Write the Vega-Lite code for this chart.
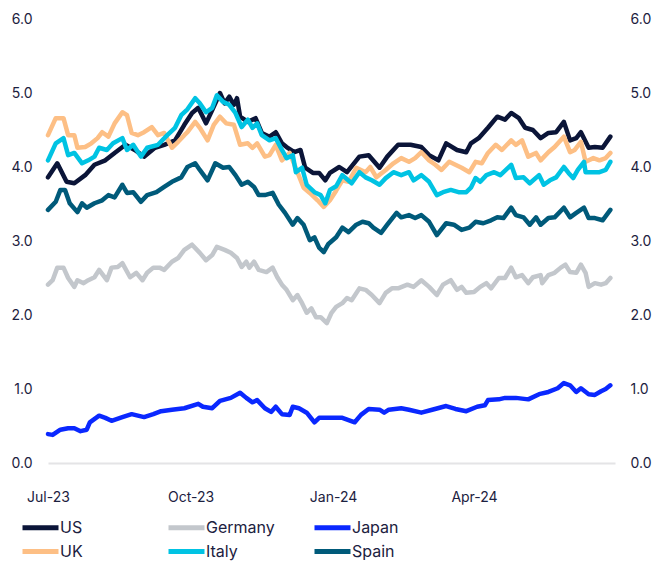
{
  "$schema": "https://vega.github.io/schema/vega-lite/v6.json",
  "autosize": {"type": "none"},
  "width": 567,
  "height": 444,
  "padding": {"left": 48, "top": 19, "right": 42, "bottom": 100},
  "background": "white",
  "config": {
    "font": "Inter",
    "view": {"stroke": null},
    "axis": {"labelFont": "Inter", "labelFontSize": 14, "labelColor": "#1c2140", "title": null, "grid": false, "ticks": false},
    "legend": {"labelFont": "Inter", "labelFontSize": 16, "labelColor": "#1c2140"}
  },
  "data": {"values": [
    {"country":"US","date":"2023-07-01","yield":3.86},{"country":"US","date":"2023-07-07","yield":4.05},{"country":"US","date":"2023-07-13","yield":3.80},{"country":"US","date":"2023-07-18","yield":3.78},{"country":"US","date":"2023-07-25","yield":3.89},{"country":"US","date":"2023-07-31","yield":4.03},{"country":"US","date":"2023-08-07","yield":4.09},{"country":"US","date":"2023-08-13","yield":4.19},{"country":"US","date":"2023-08-20","yield":4.30},{"country":"US","date":"2023-08-26","yield":4.23},{"country":"US","date":"2023-09-01","yield":4.14},{"country":"US","date":"2023-09-08","yield":4.26},{"country":"US","date":"2023-09-14","yield":4.30},{"country":"US","date":"2023-09-21","yield":4.36},{"country":"US","date":"2023-09-27","yield":4.57},{"country":"US","date":"2023-10-02","yield":4.73},{"country":"US","date":"2023-10-06","yield":4.80},{"country":"US","date":"2023-10-11","yield":4.59},{"country":"US","date":"2023-10-15","yield":4.77},{"country":"US","date":"2023-10-20","yield":5.00},{"country":"US","date":"2023-10-23","yield":4.86},{"country":"US","date":"2023-10-26","yield":4.95},{"country":"US","date":"2023-10-29","yield":4.84},{"country":"US","date":"2023-10-31","yield":4.93},{"country":"US","date":"2023-11-02","yield":4.68},{"country":"US","date":"2023-11-07","yield":4.61},{"country":"US","date":"2023-11-12","yield":4.66},{"country":"US","date":"2023-11-16","yield":4.46},{"country":"US","date":"2023-11-21","yield":4.41},{"country":"US","date":"2023-11-25","yield":4.47},{"country":"US","date":"2023-11-29","yield":4.32},{"country":"US","date":"2023-12-02","yield":4.27},{"country":"US","date":"2023-12-07","yield":4.20},{"country":"US","date":"2023-12-11","yield":4.23},{"country":"US","date":"2023-12-14","yield":3.99},{"country":"US","date":"2023-12-19","yield":3.92},{"country":"US","date":"2023-12-23","yield":3.92},{"country":"US","date":"2023-12-27","yield":3.82},{"country":"US","date":"2023-12-30","yield":3.92},{"country":"US","date":"2024-01-05","yield":4.00},{"country":"US","date":"2024-01-10","yield":3.93},{"country":"US","date":"2024-01-18","yield":4.14},{"country":"US","date":"2024-01-24","yield":4.16},{"country":"US","date":"2024-01-31","yield":3.99},{"country":"US","date":"2024-02-05","yield":4.14},{"country":"US","date":"2024-02-12","yield":4.30},{"country":"US","date":"2024-02-20","yield":4.30},{"country":"US","date":"2024-02-27","yield":4.27},{"country":"US","date":"2024-03-03","yield":4.16},{"country":"US","date":"2024-03-09","yield":4.09},{"country":"US","date":"2024-03-14","yield":4.32},{"country":"US","date":"2024-03-21","yield":4.23},{"country":"US","date":"2024-03-27","yield":4.20},{"country":"US","date":"2024-03-30","yield":4.32},{"country":"US","date":"2024-04-04","yield":4.39},{"country":"US","date":"2024-04-10","yield":4.53},{"country":"US","date":"2024-04-16","yield":4.68},{"country":"US","date":"2024-04-21","yield":4.64},{"country":"US","date":"2024-04-25","yield":4.73},{"country":"US","date":"2024-04-30","yield":4.66},{"country":"US","date":"2024-05-04","yield":4.53},{"country":"US","date":"2024-05-09","yield":4.50},{"country":"US","date":"2024-05-14","yield":4.39},{"country":"US","date":"2024-05-19","yield":4.46},{"country":"US","date":"2024-05-24","yield":4.47},{"country":"US","date":"2024-05-29","yield":4.61},{"country":"US","date":"2024-06-02","yield":4.36},{"country":"US","date":"2024-06-06","yield":4.39},{"country":"US","date":"2024-06-09","yield":4.47},{"country":"US","date":"2024-06-14","yield":4.26},{"country":"US","date":"2024-06-18","yield":4.27},{"country":"US","date":"2024-06-23","yield":4.26},{"country":"US","date":"2024-06-28","yield":4.41},

    {"country":"UK","date":"2023-07-01","yield":4.43},{"country":"UK","date":"2023-07-06","yield":4.66},{"country":"UK","date":"2023-07-11","yield":4.66},{"country":"UK","date":"2023-07-14","yield":4.43},{"country":"UK","date":"2023-07-18","yield":4.43},{"country":"UK","date":"2023-07-20","yield":4.26},{"country":"UK","date":"2023-07-25","yield":4.27},{"country":"UK","date":"2023-07-29","yield":4.32},{"country":"UK","date":"2023-08-02","yield":4.39},{"country":"UK","date":"2023-08-05","yield":4.47},{"country":"UK","date":"2023-08-09","yield":4.41},{"country":"UK","date":"2023-08-13","yield":4.59},{"country":"UK","date":"2023-08-18","yield":4.74},{"country":"UK","date":"2023-08-21","yield":4.70},{"country":"UK","date":"2023-08-24","yield":4.46},{"country":"UK","date":"2023-08-28","yield":4.43},{"country":"UK","date":"2023-09-01","yield":4.47},{"country":"UK","date":"2023-09-06","yield":4.54},{"country":"UK","date":"2023-09-10","yield":4.43},{"country":"UK","date":"2023-09-14","yield":4.46},{"country":"UK","date":"2023-09-19","yield":4.26},{"country":"UK","date":"2023-09-23","yield":4.34},{"country":"UK","date":"2023-09-27","yield":4.43},{"country":"UK","date":"2023-09-29","yield":4.47},{"country":"UK","date":"2023-10-04","yield":4.61},{"country":"UK","date":"2023-10-07","yield":4.53},{"country":"UK","date":"2023-10-12","yield":4.36},{"country":"UK","date":"2023-10-16","yield":4.57},{"country":"UK","date":"2023-10-20","yield":4.68},{"country":"UK","date":"2023-10-24","yield":4.59},{"country":"UK","date":"2023-10-29","yield":4.57},{"country":"UK","date":"2023-11-02","yield":4.30},{"country":"UK","date":"2023-11-07","yield":4.32},{"country":"UK","date":"2023-11-10","yield":4.26},{"country":"UK","date":"2023-11-13","yield":4.32},{"country":"UK","date":"2023-11-18","yield":4.14},{"country":"UK","date":"2023-11-21","yield":4.16},{"country":"UK","date":"2023-11-25","yield":4.30},{"country":"UK","date":"2023-11-29","yield":4.09},{"country":"UK","date":"2023-12-04","yield":4.19},{"country":"UK","date":"2023-12-09","yield":3.93},{"country":"UK","date":"2023-12-13","yield":3.72},{"country":"UK","date":"2023-12-17","yield":3.65},{"country":"UK","date":"2023-12-22","yield":3.55},{"country":"UK","date":"2023-12-26","yield":3.46},{"country":"UK","date":"2023-12-30","yield":3.55},{"country":"UK","date":"2024-01-03","yield":3.68},{"country":"UK","date":"2024-01-07","yield":3.82},{"country":"UK","date":"2024-01-11","yield":3.80},{"country":"UK","date":"2024-01-16","yield":3.99},{"country":"UK","date":"2024-01-22","yield":3.93},{"country":"UK","date":"2024-01-25","yield":4.00},{"country":"UK","date":"2024-01-29","yield":3.86},{"country":"UK","date":"2024-02-04","yield":3.96},{"country":"UK","date":"2024-02-09","yield":4.05},{"country":"UK","date":"2024-02-14","yield":4.12},{"country":"UK","date":"2024-02-19","yield":4.07},{"country":"UK","date":"2024-02-23","yield":4.12},{"country":"UK","date":"2024-02-27","yield":4.20},{"country":"UK","date":"2024-03-03","yield":4.09},{"country":"UK","date":"2024-03-07","yield":4.03},{"country":"UK","date":"2024-03-11","yield":3.96},{"country":"UK","date":"2024-03-16","yield":4.07},{"country":"UK","date":"2024-03-20","yield":4.03},{"country":"UK","date":"2024-03-24","yield":3.99},{"country":"UK","date":"2024-03-29","yield":3.93},{"country":"UK","date":"2024-04-02","yield":4.07},{"country":"UK","date":"2024-04-06","yield":4.05},{"country":"UK","date":"2024-04-10","yield":4.19},{"country":"UK","date":"2024-04-15","yield":4.30},{"country":"UK","date":"2024-04-19","yield":4.23},{"country":"UK","date":"2024-04-25","yield":4.36},{"country":"UK","date":"2024-04-28","yield":4.30},{"country":"UK","date":"2024-05-02","yield":4.36},{"country":"UK","date":"2024-05-06","yield":4.14},{"country":"UK","date":"2024-05-11","yield":4.19},{"country":"UK","date":"2024-05-14","yield":4.09},{"country":"UK","date":"2024-05-19","yield":4.20},{"country":"UK","date":"2024-05-23","yield":4.27},{"country":"UK","date":"2024-05-29","yield":4.41},{"country":"UK","date":"2024-06-02","yield":4.20},{"country":"UK","date":"2024-06-05","yield":4.23},{"country":"UK","date":"2024-06-09","yield":4.34},{"country":"UK","date":"2024-06-12","yield":4.07},{"country":"UK","date":"2024-06-17","yield":4.12},{"country":"UK","date":"2024-06-21","yield":4.09},{"country":"UK","date":"2024-06-25","yield":4.12},{"country":"UK","date":"2024-06-28","yield":4.19},

    {"country":"Germany","date":"2023-07-01","yield":2.41},{"country":"Germany","date":"2023-07-04","yield":2.47},{"country":"Germany","date":"2023-07-07","yield":2.64},{"country":"Germany","date":"2023-07-11","yield":2.64},{"country":"Germany","date":"2023-07-14","yield":2.50},{"country":"Germany","date":"2023-07-18","yield":2.38},{"country":"Germany","date":"2023-07-20","yield":2.47},{"country":"Germany","date":"2023-07-24","yield":2.43},{"country":"Germany","date":"2023-07-27","yield":2.47},{"country":"Germany","date":"2023-07-31","yield":2.51},{"country":"Germany","date":"2023-08-03","yield":2.61},{"country":"Germany","date":"2023-08-08","yield":2.47},{"country":"Germany","date":"2023-08-11","yield":2.64},{"country":"Germany","date":"2023-08-15","yield":2.65},{"country":"Germany","date":"2023-08-18","yield":2.70},{"country":"Germany","date":"2023-08-23","yield":2.51},{"country":"Germany","date":"2023-08-27","yield":2.57},{"country":"Germany","date":"2023-08-31","yield":2.47},{"country":"Germany","date":"2023-09-03","yield":2.57},{"country":"Germany","date":"2023-09-07","yield":2.64},{"country":"Germany","date":"2023-09-11","yield":2.64},{"country":"Germany","date":"2023-09-14","yield":2.61},{"country":"Germany","date":"2023-09-19","yield":2.72},{"country":"Germany","date":"2023-09-23","yield":2.77},{"country":"Germany","date":"2023-09-27","yield":2.88},{"country":"Germany","date":"2023-10-02","yield":2.95},{"country":"Germany","date":"2023-10-07","yield":2.84},{"country":"Germany","date":"2023-10-11","yield":2.74},{"country":"Germany","date":"2023-10-15","yield":2.81},{"country":"Germany","date":"2023-10-18","yield":2.92},{"country":"Germany","date":"2023-10-23","yield":2.88},{"country":"Germany","date":"2023-10-27","yield":2.84},{"country":"Germany","date":"2023-10-31","yield":2.77},{"country":"Germany","date":"2023-11-03","yield":2.65},{"country":"Germany","date":"2023-11-06","yield":2.72},{"country":"Germany","date":"2023-11-08","yield":2.64},{"country":"Germany","date":"2023-11-11","yield":2.72},{"country":"Germany","date":"2023-11-14","yield":2.61},{"country":"Germany","date":"2023-11-19","yield":2.58},{"country":"Germany","date":"2023-11-23","yield":2.64},{"country":"Germany","date":"2023-11-26","yield":2.51},{"country":"Germany","date":"2023-11-29","yield":2.41},{"country":"Germany","date":"2023-12-02","yield":2.34},{"country":"Germany","date":"2023-12-06","yield":2.20},{"country":"Germany","date":"2023-12-09","yield":2.27},{"country":"Germany","date":"2023-12-12","yield":2.16},{"country":"Germany","date":"2023-12-15","yield":2.03},{"country":"Germany","date":"2023-12-18","yield":2.09},{"country":"Germany","date":"2023-12-21","yield":1.97},{"country":"Germany","date":"2023-12-24","yield":1.97},{"country":"Germany","date":"2023-12-28","yield":1.89},{"country":"Germany","date":"2023-12-31","yield":2.03},{"country":"Germany","date":"2024-01-03","yield":2.11},{"country":"Germany","date":"2024-01-07","yield":2.16},{"country":"Germany","date":"2024-01-10","yield":2.23},{"country":"Germany","date":"2024-01-13","yield":2.20},{"country":"Germany","date":"2024-01-18","yield":2.36},{"country":"Germany","date":"2024-01-22","yield":2.34},{"country":"Germany","date":"2024-01-26","yield":2.27},{"country":"Germany","date":"2024-01-31","yield":2.16},{"country":"Germany","date":"2024-02-04","yield":2.30},{"country":"Germany","date":"2024-02-08","yield":2.36},{"country":"Germany","date":"2024-02-12","yield":2.36},{"country":"Germany","date":"2024-02-18","yield":2.41},{"country":"Germany","date":"2024-02-22","yield":2.38},{"country":"Germany","date":"2024-02-27","yield":2.47},{"country":"Germany","date":"2024-03-03","yield":2.38},{"country":"Germany","date":"2024-03-08","yield":2.27},{"country":"Germany","date":"2024-03-12","yield":2.41},{"country":"Germany","date":"2024-03-17","yield":2.47},{"country":"Germany","date":"2024-03-21","yield":2.34},{"country":"Germany","date":"2024-03-24","yield":2.38},{"country":"Germany","date":"2024-03-27","yield":2.30},{"country":"Germany","date":"2024-04-01","yield":2.31},{"country":"Germany","date":"2024-04-05","yield":2.38},{"country":"Germany","date":"2024-04-09","yield":2.43},{"country":"Germany","date":"2024-04-12","yield":2.36},{"country":"Germany","date":"2024-04-17","yield":2.50},{"country":"Germany","date":"2024-04-21","yield":2.50},{"country":"Germany","date":"2024-04-25","yield":2.64},{"country":"Germany","date":"2024-04-28","yield":2.51},{"country":"Germany","date":"2024-05-02","yield":2.54},{"country":"Germany","date":"2024-05-06","yield":2.43},{"country":"Germany","date":"2024-05-09","yield":2.51},{"country":"Germany","date":"2024-05-14","yield":2.54},{"country":"Germany","date":"2024-05-15","yield":2.43},{"country":"Germany","date":"2024-05-19","yield":2.54},{"country":"Germany","date":"2024-05-23","yield":2.57},{"country":"Germany","date":"2024-05-27","yield":2.64},{"country":"Germany","date":"2024-05-30","yield":2.68},{"country":"Germany","date":"2024-06-02","yield":2.58},{"country":"Germany","date":"2024-06-06","yield":2.57},{"country":"Germany","date":"2024-06-09","yield":2.68},{"country":"Germany","date":"2024-06-12","yield":2.57},{"country":"Germany","date":"2024-06-14","yield":2.38},{"country":"Germany","date":"2024-06-18","yield":2.43},{"country":"Germany","date":"2024-06-22","yield":2.41},{"country":"Germany","date":"2024-06-25","yield":2.43},{"country":"Germany","date":"2024-06-28","yield":2.50},

    {"country":"Italy","date":"2023-07-01","yield":4.09},{"country":"Italy","date":"2023-07-06","yield":4.32},{"country":"Italy","date":"2023-07-11","yield":4.39},{"country":"Italy","date":"2023-07-14","yield":4.16},{"country":"Italy","date":"2023-07-18","yield":4.19},{"country":"Italy","date":"2023-07-23","yield":4.05},{"country":"Italy","date":"2023-07-27","yield":4.09},{"country":"Italy","date":"2023-07-31","yield":4.14},{"country":"Italy","date":"2023-08-03","yield":4.26},{"country":"Italy","date":"2023-08-08","yield":4.23},{"country":"Italy","date":"2023-08-12","yield":4.32},{"country":"Italy","date":"2023-08-18","yield":4.39},{"country":"Italy","date":"2023-08-21","yield":4.23},{"country":"Italy","date":"2023-08-25","yield":4.30},{"country":"Italy","date":"2023-08-30","yield":4.14},{"country":"Italy","date":"2023-09-03","yield":4.26},{"country":"Italy","date":"2023-09-10","yield":4.30},{"country":"Italy","date":"2023-09-16","yield":4.43},{"country":"Italy","date":"2023-09-21","yield":4.53},{"country":"Italy","date":"2023-09-25","yield":4.70},{"country":"Italy","date":"2023-09-29","yield":4.78},{"country":"Italy","date":"2023-10-04","yield":4.93},{"country":"Italy","date":"2023-10-07","yield":4.86},{"country":"Italy","date":"2023-10-11","yield":4.74},{"country":"Italy","date":"2023-10-15","yield":4.80},{"country":"Italy","date":"2023-10-18","yield":4.97},{"country":"Italy","date":"2023-10-22","yield":4.88},{"country":"Italy","date":"2023-10-26","yield":4.84},{"country":"Italy","date":"2023-10-30","yield":4.73},{"country":"Italy","date":"2023-11-03","yield":4.54},{"country":"Italy","date":"2023-11-07","yield":4.64},{"country":"Italy","date":"2023-11-10","yield":4.53},{"country":"Italy","date":"2023-11-13","yield":4.59},{"country":"Italy","date":"2023-11-16","yield":4.43},{"country":"Italy","date":"2023-11-21","yield":4.36},{"country":"Italy","date":"2023-11-25","yield":4.39},{"country":"Italy","date":"2023-11-29","yield":4.23},{"country":"Italy","date":"2023-12-02","yield":4.12},{"country":"Italy","date":"2023-12-06","yield":4.16},{"country":"Italy","date":"2023-12-08","yield":3.93},{"country":"Italy","date":"2023-12-12","yield":3.99},{"country":"Italy","date":"2023-12-15","yield":3.76},{"country":"Italy","date":"2023-12-20","yield":3.66},{"country":"Italy","date":"2023-12-24","yield":3.62},{"country":"Italy","date":"2023-12-27","yield":3.51},{"country":"Italy","date":"2023-12-30","yield":3.69},{"country":"Italy","date":"2024-01-03","yield":3.74},{"country":"Italy","date":"2024-01-07","yield":3.89},{"country":"Italy","date":"2024-01-13","yield":3.78},{"country":"Italy","date":"2024-01-18","yield":3.93},{"country":"Italy","date":"2024-01-22","yield":3.86},{"country":"Italy","date":"2024-01-26","yield":3.82},{"country":"Italy","date":"2024-01-31","yield":3.76},{"country":"Italy","date":"2024-02-04","yield":3.85},{"country":"Italy","date":"2024-02-09","yield":3.93},{"country":"Italy","date":"2024-02-14","yield":3.89},{"country":"Italy","date":"2024-02-19","yield":3.93},{"country":"Italy","date":"2024-02-22","yield":3.82},{"country":"Italy","date":"2024-02-27","yield":3.89},{"country":"Italy","date":"2024-03-03","yield":3.80},{"country":"Italy","date":"2024-03-08","yield":3.62},{"country":"Italy","date":"2024-03-12","yield":3.66},{"country":"Italy","date":"2024-03-17","yield":3.69},{"country":"Italy","date":"2024-03-22","yield":3.66},{"country":"Italy","date":"2024-03-27","yield":3.66},{"country":"Italy","date":"2024-03-30","yield":3.72},{"country":"Italy","date":"2024-04-02","yield":3.85},{"country":"Italy","date":"2024-04-05","yield":3.80},{"country":"Italy","date":"2024-04-09","yield":3.89},{"country":"Italy","date":"2024-04-14","yield":3.93},{"country":"Italy","date":"2024-04-18","yield":3.89},{"country":"Italy","date":"2024-04-25","yield":4.03},{"country":"Italy","date":"2024-04-28","yield":3.85},{"country":"Italy","date":"2024-05-03","yield":3.86},{"country":"Italy","date":"2024-05-07","yield":3.78},{"country":"Italy","date":"2024-05-13","yield":3.89},{"country":"Italy","date":"2024-05-16","yield":3.76},{"country":"Italy","date":"2024-05-20","yield":3.82},{"country":"Italy","date":"2024-05-24","yield":3.86},{"country":"Italy","date":"2024-05-29","yield":4.00},{"country":"Italy","date":"2024-06-01","yield":3.92},{"country":"Italy","date":"2024-06-04","yield":3.85},{"country":"Italy","date":"2024-06-07","yield":3.96},{"country":"Italy","date":"2024-06-11","yield":4.07},{"country":"Italy","date":"2024-06-12","yield":3.93},{"country":"Italy","date":"2024-06-17","yield":3.93},{"country":"Italy","date":"2024-06-21","yield":3.93},{"country":"Italy","date":"2024-06-25","yield":3.96},{"country":"Italy","date":"2024-06-28","yield":4.07},

    {"country":"Japan","date":"2023-07-01","yield":0.39},{"country":"Japan","date":"2023-07-04","yield":0.38},{"country":"Japan","date":"2023-07-09","yield":0.45},{"country":"Japan","date":"2023-07-14","yield":0.47},{"country":"Japan","date":"2023-07-18","yield":0.47},{"country":"Japan","date":"2023-07-22","yield":0.43},{"country":"Japan","date":"2023-07-26","yield":0.45},{"country":"Japan","date":"2023-07-28","yield":0.55},{"country":"Japan","date":"2023-08-03","yield":0.64},{"country":"Japan","date":"2023-08-07","yield":0.61},{"country":"Japan","date":"2023-08-11","yield":0.57},{"country":"Japan","date":"2023-08-18","yield":0.62},{"country":"Japan","date":"2023-08-24","yield":0.66},{"country":"Japan","date":"2023-09-01","yield":0.62},{"country":"Japan","date":"2023-09-07","yield":0.66},{"country":"Japan","date":"2023-09-12","yield":0.70},{"country":"Japan","date":"2023-09-19","yield":0.72},{"country":"Japan","date":"2023-09-27","yield":0.74},{"country":"Japan","date":"2023-10-06","yield":0.80},{"country":"Japan","date":"2023-10-09","yield":0.76},{"country":"Japan","date":"2023-10-15","yield":0.74},{"country":"Japan","date":"2023-10-20","yield":0.84},{"country":"Japan","date":"2023-10-27","yield":0.88},{"country":"Japan","date":"2023-11-02","yield":0.95},{"country":"Japan","date":"2023-11-06","yield":0.88},{"country":"Japan","date":"2023-11-10","yield":0.82},{"country":"Japan","date":"2023-11-13","yield":0.85},{"country":"Japan","date":"2023-11-18","yield":0.74},{"country":"Japan","date":"2023-11-22","yield":0.69},{"country":"Japan","date":"2023-11-25","yield":0.76},{"country":"Japan","date":"2023-11-29","yield":0.66},{"country":"Japan","date":"2023-12-04","yield":0.65},{"country":"Japan","date":"2023-12-06","yield":0.76},{"country":"Japan","date":"2023-12-10","yield":0.74},{"country":"Japan","date":"2023-12-15","yield":0.68},{"country":"Japan","date":"2023-12-20","yield":0.55},{"country":"Japan","date":"2023-12-23","yield":0.61},{"country":"Japan","date":"2023-12-29","yield":0.61},{"country":"Japan","date":"2024-01-07","yield":0.61},{"country":"Japan","date":"2024-01-15","yield":0.55},{"country":"Japan","date":"2024-01-19","yield":0.65},{"country":"Japan","date":"2024-01-24","yield":0.73},{"country":"Japan","date":"2024-01-31","yield":0.72},{"country":"Japan","date":"2024-02-03","yield":0.68},{"country":"Japan","date":"2024-02-06","yield":0.72},{"country":"Japan","date":"2024-02-14","yield":0.74},{"country":"Japan","date":"2024-02-19","yield":0.72},{"country":"Japan","date":"2024-02-27","yield":0.68},{"country":"Japan","date":"2024-03-05","yield":0.72},{"country":"Japan","date":"2024-03-14","yield":0.77},{"country":"Japan","date":"2024-03-20","yield":0.73},{"country":"Japan","date":"2024-03-27","yield":0.70},{"country":"Japan","date":"2024-04-03","yield":0.76},{"country":"Japan","date":"2024-04-08","yield":0.78},{"country":"Japan","date":"2024-04-10","yield":0.85},{"country":"Japan","date":"2024-04-17","yield":0.86},{"country":"Japan","date":"2024-04-21","yield":0.88},{"country":"Japan","date":"2024-04-28","yield":0.88},{"country":"Japan","date":"2024-05-06","yield":0.86},{"country":"Japan","date":"2024-05-13","yield":0.93},{"country":"Japan","date":"2024-05-19","yield":0.96},{"country":"Japan","date":"2024-05-25","yield":1.01},{"country":"Japan","date":"2024-05-29","yield":1.08},{"country":"Japan","date":"2024-06-02","yield":1.05},{"country":"Japan","date":"2024-06-06","yield":0.96},{"country":"Japan","date":"2024-06-09","yield":1.01},{"country":"Japan","date":"2024-06-14","yield":0.93},{"country":"Japan","date":"2024-06-18","yield":0.92},{"country":"Japan","date":"2024-06-22","yield":0.97},{"country":"Japan","date":"2024-06-25","yield":1.00},{"country":"Japan","date":"2024-06-28","yield":1.05},

    {"country":"Spain","date":"2023-07-01","yield":3.42},{"country":"Spain","date":"2023-07-06","yield":3.53},{"country":"Spain","date":"2023-07-09","yield":3.69},{"country":"Spain","date":"2023-07-12","yield":3.69},{"country":"Spain","date":"2023-07-15","yield":3.51},{"country":"Spain","date":"2023-07-20","yield":3.39},{"country":"Spain","date":"2023-07-23","yield":3.51},{"country":"Spain","date":"2023-07-26","yield":3.45},{"country":"Spain","date":"2023-07-31","yield":3.51},{"country":"Spain","date":"2023-08-05","yield":3.55},{"country":"Spain","date":"2023-08-09","yield":3.62},{"country":"Spain","date":"2023-08-13","yield":3.59},{"country":"Spain","date":"2023-08-18","yield":3.76},{"country":"Spain","date":"2023-08-21","yield":3.65},{"country":"Spain","date":"2023-08-25","yield":3.66},{"country":"Spain","date":"2023-08-30","yield":3.53},{"country":"Spain","date":"2023-09-03","yield":3.62},{"country":"Spain","date":"2023-09-09","yield":3.66},{"country":"Spain","date":"2023-09-14","yield":3.73},{"country":"Spain","date":"2023-09-19","yield":3.80},{"country":"Spain","date":"2023-09-25","yield":3.86},{"country":"Spain","date":"2023-09-29","yield":4.00},{"country":"Spain","date":"2023-10-04","yield":4.05},{"country":"Spain","date":"2023-10-07","yield":3.96},{"country":"Spain","date":"2023-10-12","yield":3.82},{"country":"Spain","date":"2023-10-17","yield":4.05},{"country":"Spain","date":"2023-10-22","yield":3.99},{"country":"Spain","date":"2023-10-26","yield":4.00},{"country":"Spain","date":"2023-10-30","yield":3.89},{"country":"Spain","date":"2023-11-03","yield":3.76},{"country":"Spain","date":"2023-11-07","yield":3.80},{"country":"Spain","date":"2023-11-11","yield":3.73},{"country":"Spain","date":"2023-11-14","yield":3.62},{"country":"Spain","date":"2023-11-18","yield":3.62},{"country":"Spain","date":"2023-11-23","yield":3.65},{"country":"Spain","date":"2023-11-27","yield":3.49},{"country":"Spain","date":"2023-12-01","yield":3.38},{"country":"Spain","date":"2023-12-06","yield":3.22},{"country":"Spain","date":"2023-12-09","yield":3.31},{"country":"Spain","date":"2023-12-13","yield":3.22},{"country":"Spain","date":"2023-12-17","yield":3.01},{"country":"Spain","date":"2023-12-20","yield":3.05},{"country":"Spain","date":"2023-12-23","yield":2.91},{"country":"Spain","date":"2023-12-26","yield":2.85},{"country":"Spain","date":"2023-12-29","yield":2.96},{"country":"Spain","date":"2024-01-03","yield":3.05},{"country":"Spain","date":"2024-01-07","yield":3.18},{"country":"Spain","date":"2024-01-11","yield":3.12},{"country":"Spain","date":"2024-01-16","yield":3.22},{"country":"Spain","date":"2024-01-20","yield":3.26},{"country":"Spain","date":"2024-01-24","yield":3.24},{"country":"Spain","date":"2024-01-27","yield":3.18},{"country":"Spain","date":"2024-02-01","yield":3.11},{"country":"Spain","date":"2024-02-05","yield":3.22},{"country":"Spain","date":"2024-02-11","yield":3.38},{"country":"Spain","date":"2024-02-14","yield":3.32},{"country":"Spain","date":"2024-02-19","yield":3.35},{"country":"Spain","date":"2024-02-23","yield":3.31},{"country":"Spain","date":"2024-02-27","yield":3.35},{"country":"Spain","date":"2024-03-03","yield":3.26},{"country":"Spain","date":"2024-03-08","yield":3.08},{"country":"Spain","date":"2024-03-14","yield":3.24},{"country":"Spain","date":"2024-03-19","yield":3.22},{"country":"Spain","date":"2024-03-24","yield":3.15},{"country":"Spain","date":"2024-03-29","yield":3.18},{"country":"Spain","date":"2024-04-02","yield":3.26},{"country":"Spain","date":"2024-04-07","yield":3.24},{"country":"Spain","date":"2024-04-12","yield":3.28},{"country":"Spain","date":"2024-04-16","yield":3.32},{"country":"Spain","date":"2024-04-20","yield":3.31},{"country":"Spain","date":"2024-04-25","yield":3.45},{"country":"Spain","date":"2024-04-28","yield":3.35},{"country":"Spain","date":"2024-05-03","yield":3.32},{"country":"Spain","date":"2024-05-07","yield":3.22},{"country":"Spain","date":"2024-05-11","yield":3.32},{"country":"Spain","date":"2024-05-14","yield":3.22},{"country":"Spain","date":"2024-05-19","yield":3.31},{"country":"Spain","date":"2024-05-23","yield":3.32},{"country":"Spain","date":"2024-05-29","yield":3.45},{"country":"Spain","date":"2024-06-02","yield":3.32},{"country":"Spain","date":"2024-06-06","yield":3.38},{"country":"Spain","date":"2024-06-11","yield":3.45},{"country":"Spain","date":"2024-06-14","yield":3.31},{"country":"Spain","date":"2024-06-18","yield":3.31},{"country":"Spain","date":"2024-06-23","yield":3.28},{"country":"Spain","date":"2024-06-28","yield":3.42}
  ]},
  "encoding": {
    "x": {
      "field": "date", "type": "temporal",
      "scale": {"type": "utc", "domain": [{"year": 2023, "month": 7, "date": 1, "utc": true}, {"year": 2024, "month": 7, "date": 1, "utc": true}]},
      "axis": {
        "values": [{"year": 2023, "month": 7, "date": 1, "utc": true}, {"year": 2023, "month": 10, "date": 1, "utc": true}, {"year": 2024, "month": 1, "date": 1, "utc": true}, {"year": 2024, "month": 4, "date": 1, "utc": true}],
        "format": "%b-%y", "labelFlush": false, "labelPadding": 27, "labelOverlap": false,
        "domain": true, "domainColor": "#e4e4e6", "domainWidth": 2
      }
    }
  },
  "layer": [
    {
      "mark": {"type": "line", "strokeOpacity": 0},
      "encoding": {
        "y": {"field": "yield", "type": "quantitative", "scale": {"domain": [0, 6], "nice": false},
              "axis": {"orient": "right", "values": [0, 1, 2, 3, 4, 5, 6], "format": ".1f", "domain": false, "labelPadding": 15}}
      }
    },
    {
      "mark": {"type": "line", "strokeWidth": 4.5, "strokeJoin": "round", "strokeCap": "round"},
      "encoding": {
        "y": {"field": "yield", "type": "quantitative", "scale": {"domain": [0, 6], "nice": false},
              "axis": {"orient": "left", "values": [0, 1, 2, 3, 4, 5, 6], "format": ".1f", "domain": false, "labelPadding": 16}},
        "color": {
          "field": "country", "type": "nominal",
          "scale": {"domain": ["US", "UK", "Germany", "Italy", "Japan", "Spain"],
                    "range": ["#0b1538", "#fdbf85", "#c3c7cc", "#00c3e3", "#0a28ff", "#005a7a"]},
          "legend": {
            "title": null, "orient": "none", "legendX": -28, "legendY": 500,
            "columns": 3, "gridAlign": "all", "columnPadding": 29, "rowPadding": 3,
            "symbolType": "M-1,0H5", "symbolSize": 144, "symbolStrokeWidth": 5, "labelOffset": 23
          }
        }
      }
    }
  ],
  "resolve": {"scale": {"y": "independent"}}
}
